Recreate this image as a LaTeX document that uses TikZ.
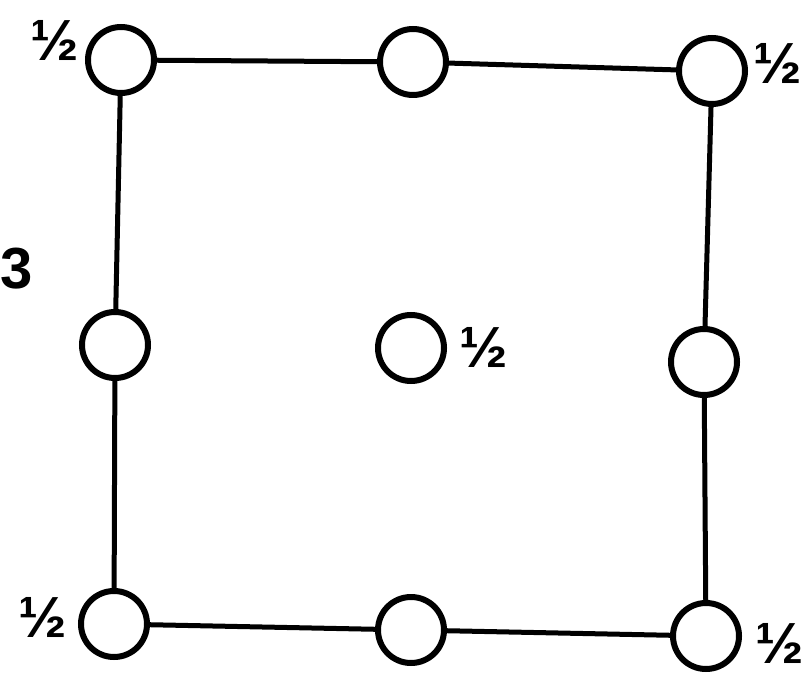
\documentclass[tikz,border=0pt]{standalone}
\usepackage{fontspec}
\setmainfont{Liberation Sans}
\usetikzlibrary{positioning}
\tikzset{
  ring/.style={circle, draw=black, line width=3pt, fill=white,
    minimum size=33pt, inner sep=0pt},
  half/.style={inner sep=0pt, font=\fontsize{29}{29}\selectfont\bfseries},
  edge/.style={line width=2.5pt, draw=black}
}
\begin{document}
\begin{tikzpicture}[x=0.5pt, y=-0.5pt]
\useasboundingbox (0,0) rectangle (812,673);
\node (tl) [ring] at (121,60)  {};
\node (tm) [ring] at (413,62)  {};
\node (tr) [ring] at (712,71)  {};
\node (lm) [ring] at (115,345) {};
\node (cc) [ring] at (411,348) {};
\node (rm) [ring] at (704,362) {};
\node (bl) [ring] at (114,624) {};
\node (bm) [ring] at (411,630) {};
\node (br) [ring] at (706,636) {};

\node (htl) [half] at (55,40)   {½};
\node (htr) [half] at (778,63)  {½};
\node (hcc) [half] at (484,347) {½};
\node (hbl) [half] at (43,617)  {½};
\node (hbr) [half] at (780,643) {½};
\node (three) [half] at (17,269) {3};

\draw[edge] (tl) -- (tm);
\draw[edge] (tm) -- (tr);
\draw[edge] (tl) -- (lm);
\draw[edge] (lm) -- (bl);
\draw[edge] (tr) -- (rm);
\draw[edge] (rm) -- (br);
\draw[edge] (bl) -- (bm);
\draw[edge] (bm) -- (br);
\end{tikzpicture}
\end{document}
